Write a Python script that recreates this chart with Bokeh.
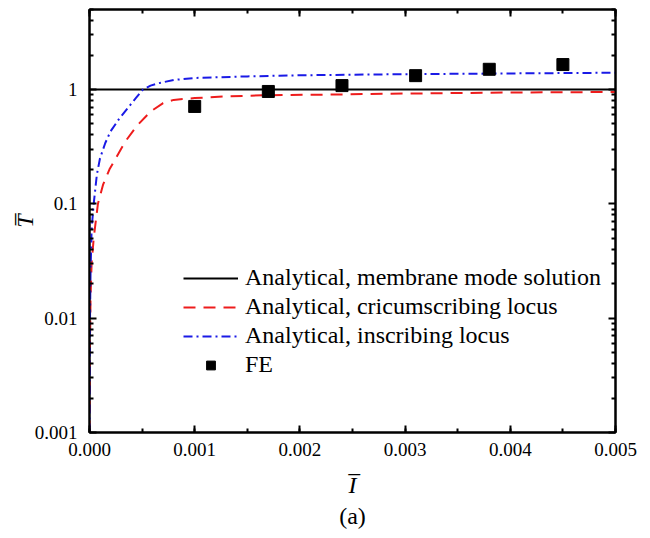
from bokeh.plotting import figure
from bokeh.models import (LinearAxis, LogAxis, FixedTicker, SingleIntervalTicker,
                          NumeralTickFormatter, Legend, LegendItem, Title, Range1d,
                          CustomJSTickFormatter)
from bokeh.embed import file_html
from bokeh.resources import INLINE

# ---- data ----
membrane_x = [0.0, 0.005]
membrane_y = [1.0, 1.0]

circ_x = [0.0, 0.000005, 0.00001, 0.00002, 0.00004, 0.00008, 0.00013, 0.00019, 0.00025,
          0.00034, 0.00045, 0.00058, 0.0007, 0.0008, 0.001, 0.0013, 0.0017, 0.0022,
          0.003, 0.004, 0.005]
circ_y = [0.001, 0.006, 0.015, 0.03, 0.05, 0.1, 0.148, 0.2, 0.25,
          0.35, 0.48, 0.64, 0.76, 0.81, 0.84, 0.87, 0.89, 0.9,
          0.92, 0.94, 0.95]

insc_x = [0.0, 0.000005, 0.00001, 0.00002, 0.00004, 0.00007, 0.0001, 0.00015, 0.0002,
          0.00028, 0.00036, 0.00044, 0.00051, 0.00058, 0.00065, 0.0008, 0.001, 0.0015,
          0.002, 0.003, 0.004, 0.005]
insc_y = [0.001, 0.01, 0.025, 0.06, 0.1, 0.18, 0.25, 0.34, 0.43,
          0.55, 0.68, 0.84, 1.0, 1.08, 1.13, 1.21, 1.26, 1.3,
          1.33, 1.36, 1.38, 1.4]

fe_x = [0.001, 0.0017, 0.0024, 0.0031, 0.0038, 0.0045]
fe_y = [0.71, 0.96, 1.08, 1.32, 1.5, 1.65]

x_major = [0.0, 0.001, 0.002, 0.003, 0.004, 0.005]
y_major = [0.001, 0.01, 0.1, 1.0]
y_minor = [m * 10 ** e for e in range(-3, 1) for m in range(2, 10) if m * 10 ** e <= 5]
y_labels = {0.001: "0.001", 0.01: "0.01", 0.1: "0.1", 1: "1"}

legend_labels = ["Analytical, membrane mode solution",
                 "Analytical, cricumscribing locus",
                 "Analytical, inscribing locus",
                 "FE"]

FONT = "Liberation Serif"

p = figure(width=650, height=538, y_axis_type="log",
           x_range=Range1d(0, 0.005), y_range=Range1d(0.001, 5),
           output_backend="svg", toolbar_location=None,
           min_border_left=89, min_border_right=35, min_border_top=9, min_border_bottom=106)
p.grid.visible = False
p.outline_line_color = "black"
p.outline_line_width = 2
p.background_fill_color = "white"
p.border_fill_color = "white"

r_mem = p.line(membrane_x, membrane_y, line_color="black", line_width=2)
r_circ = p.line(circ_x, circ_y, line_color="#ee1c1c", line_width=2, line_dash="12 8")
r_insc = p.line(insc_x, insc_y, line_color="#1a1ae6", line_width=2, line_dash="9 4 2 4")
r_fe = p.scatter(fe_x, fe_y, marker="square", size=12, fill_color="black", line_color="black")

# bottom axis
xa = p.xaxis[0]
xa.ticker = SingleIntervalTicker(interval=0.001, num_minor_ticks=2)
xa.formatter = NumeralTickFormatter(format="0.000")
# left axis
ya = p.yaxis[0]
ya.ticker = FixedTicker(ticks=y_major, minor_ticks=y_minor)
ya.major_label_overrides = y_labels

for ax in (xa, ya):
    ax.axis_line_width = 2
    ax.major_tick_in = 7
    ax.major_tick_out = 0
    ax.minor_tick_in = 4
    ax.minor_tick_out = 0
    ax.major_tick_line_width = 2
    ax.minor_tick_line_width = 2
    ax.major_label_text_font = FONT
    ax.major_label_text_font_size = "19px"
    ax.major_label_text_color = "black"
    ax.axis_label_text_font = FONT
    ax.axis_label_text_font_size = "24px"
    ax.axis_label_text_font_style = "italic"
    ax.axis_label_text_color = "black"

xa.axis_label = "I\u0305"
xa.major_label_standoff = 10
xa.axis_label_standoff = 13
ya.axis_label = "T\u0305"
ya.major_label_standoff = 12
ya.axis_label_standoff = -6

# top and right axes (ticks only, no labels)
top = LinearAxis(ticker=SingleIntervalTicker(interval=0.001, num_minor_ticks=2),
                 formatter=CustomJSTickFormatter(code="return ''"))
right = LogAxis(ticker=FixedTicker(ticks=y_major, minor_ticks=y_minor),
                formatter=CustomJSTickFormatter(code="return ''"))
for ax in (top, right):
    ax.axis_line_width = 2
    ax.major_tick_in = 7
    ax.major_tick_out = 0
    ax.minor_tick_in = 4
    ax.minor_tick_out = 0
    ax.major_tick_line_width = 2
    ax.minor_tick_line_width = 2
    ax.major_label_standoff = 0
p.add_layout(top, "above")
p.add_layout(right, "right")

p.add_layout(Title(text="(a)", align="center", text_font=FONT, text_font_size="24px",
                   text_font_style="normal", text_color="black", standoff=1), "below")

legend = Legend(items=[LegendItem(label=legend_labels[0], renderers=[r_mem]),
                       LegendItem(label=legend_labels[1], renderers=[r_circ]),
                       LegendItem(label=legend_labels[2], renderers=[r_insc]),
                       LegendItem(label=legend_labels[3], renderers=[r_fe])],
                location=(94, 54), border_line_color=None, background_fill_alpha=0,
                padding=0, margin=0, spacing=2, glyph_width=55, glyph_height=22,
                label_height=22, label_standoff=7,
                label_text_font=FONT, label_text_font_size="24px", label_text_color="black")
p.add_layout(legend, "center")

open("out.html", "w").write(file_html(p, INLINE))
